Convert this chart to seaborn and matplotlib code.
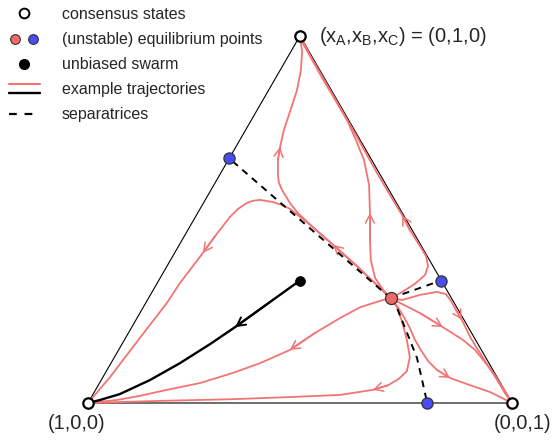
import numpy as np
import pandas as pd
import seaborn as sns
import matplotlib.pyplot as plt
from matplotlib.lines import Line2D
from matplotlib.legend_handler import HandlerTuple, HandlerBase

RED = '#f27474'
RED_PT = '#f06a6a'
BLUE = '#4b4bf5'

# special points, barycentric (xA, xB, xC)
consensus = [(1, 0, 0), (0, 1, 0), (0, 0, 1)]
consensus_labels = ['(1,0,0)', r'$\mathregular{(x_A{,}x_B{,}x_C)}$ = (0,1,0)', '(0,0,1)']
eq_red = [(1/7, 2/7, 4/7)]
eq_blue = [(1/3, 2/3, 0), (0, 1/3, 2/3), (1/5, 0, 4/5)]
swarm = [(1/3, 1/3, 1/3)]

# trajectories, triangle plane coords:
# (1,0,0) -> (0,0), (0,0,1) -> (1,0), (0,1,0) -> (0.5, 0.866)
black_x = [0.5, 0.429, 0.347, 0.288, 0.217, 0.146, 0.075, 0.028, 0]
black_y = [0.289, 0.238, 0.179, 0.139, 0.094, 0.054, 0.021, 0.007, 0]

toA_1_x = [0.714, 0.696, 0.642, 0.594, 0.535, 0.476, 0.406, 0.342, 0.264, 0.186, 0.123, 0.068, 0]
toA_1_y = [0.247, 0.243, 0.226, 0.200, 0.165, 0.125, 0.094, 0.071, 0.047, 0.031, 0.017, 0.007, 0]

toA_2_x = [0.714, 0.729, 0.741, 0.752, 0.759, 0.752, 0.733, 0.708, 0.672, 0.594, 0.476, 0.342, 0.170, 0]
toA_2_y = [0.247, 0.226, 0.191, 0.149, 0.108, 0.075, 0.057, 0.042, 0.031, 0.019, 0.014, 0.009, 0.005, 0]

toA_3_x = [0.714, 0.689, 0.634, 0.578, 0.524, 0.476, 0.457, 0.436, 0.406, 0.389, 0.375, 0.354,
           0.335, 0.300, 0.271, 0.217, 0.186, 0.146, 0.106, 0.052, 0]
toA_3_y = [0.247, 0.271, 0.323, 0.373, 0.420, 0.458, 0.467, 0.474, 0.479, 0.477, 0.472, 0.458,
           0.439, 0.394, 0.354, 0.283, 0.236, 0.184, 0.132, 0.061, 0]

toB_1_x = [0.714, 0.689, 0.634, 0.578, 0.528, 0.495, 0.476, 0.458, 0.450, 0.448, 0.448, 0.453, 0.462,
           0.476, 0.493, 0.502, 0.505, 0.5]
toB_1_y = [0.247, 0.271, 0.323, 0.373, 0.417, 0.448, 0.472, 0.502, 0.520, 0.538, 0.573, 0.604, 0.644,
           0.686, 0.738, 0.785, 0.828, 0.866]

toB_2_x = [0.714, 0.696, 0.677, 0.667, 0.665, 0.665, 0.663, 0.651, 0.632, 0.611, 0.583, 0.552,
           0.526, 0.509, 0.5]
toB_2_y = [0.247, 0.267, 0.295, 0.337, 0.384, 0.448, 0.514, 0.573, 0.620, 0.667, 0.715, 0.767,
           0.814, 0.844, 0.866]

toB_3_x = [0.714, 0.741, 0.771, 0.795, 0.802, 0.797, 0.783, 0.759, 0.741, 0.712, 0.686, 0.658,
           0.632, 0.606, 0.579, 0.552, 0.526, 0.5]
toB_3_y = [0.247, 0.262, 0.281, 0.302, 0.323, 0.347, 0.370, 0.408, 0.443, 0.491, 0.535, 0.585,
           0.632, 0.677, 0.724, 0.771, 0.816, 0.866]

toC_1_x = [0.714, 0.741, 0.783, 0.823, 0.844, 0.856, 0.868, 0.882, 0.901, 0.920, 0.941, 0.965, 0.983, 1]
toC_1_y = [0.247, 0.243, 0.255, 0.262, 0.257, 0.241, 0.219, 0.196, 0.156, 0.125, 0.092, 0.054, 0.024, 0]

toC_2_x = [0.714, 0.736, 0.783, 0.837, 0.884, 0.913, 0.934, 0.958, 0.979, 1]
toC_2_y = [0.247, 0.236, 0.212, 0.179, 0.149, 0.125, 0.099, 0.068, 0.035, 0]

toC_3_x = [0.714, 0.731, 0.745, 0.759, 0.771, 0.785, 0.802, 0.823, 0.854, 0.901, 0.948, 1]
toC_3_y = [0.247, 0.226, 0.203, 0.177, 0.149, 0.125, 0.099, 0.078, 0.059, 0.042, 0.026, 0]

# separatrices (from red equilibrium to the blue saddles)
sep_left_x = [0.714, 0.333]
sep_left_y = [0.247, 0.577]
sep_right_x = [0.714, 0.833]
sep_right_y = [0.247, 0.289]
sep_bottom_x = [0.714, 0.731, 0.745, 0.759, 0.776, 0.788, 0.8]
sep_bottom_y = [0.247, 0.219, 0.184, 0.149, 0.106, 0.054, 0]


def bary_to_xy(pts):
    pts = np.asarray(pts, dtype=float)
    return pts[:, 2] + 0.5 * pts[:, 1], np.sqrt(3) / 2 * pts[:, 1]


def add_arrow(ax, xs, ys, i, color, lw):
    ax.annotate('', xy=(xs[i], ys[i]), xytext=(xs[i - 1], ys[i - 1]),
                arrowprops=dict(arrowstyle='->,head_length=0.6,head_width=0.32',
                                color=color, lw=lw, shrinkA=0, shrinkB=0))


class HandlerStacked(HandlerBase):
    def create_artists(self, legend, orig_handle, xdescent, ydescent,
                       width, height, fontsize, trans):
        out = []
        for k, h in enumerate(orig_handle):
            y = height / 2 - ydescent + (0.5 - k) * 0.75 * height
            ln = Line2D([-xdescent, width - xdescent], [y, y], color=h.get_color(),
                        lw=h.get_linewidth(), transform=trans)
            out.append(ln)
        return out


sns.set_style('white')
plt.rcParams['font.family'] = ['Liberation Sans', 'DejaVu Sans']

fig = plt.figure(figsize=(5.53, 4.42), dpi=100)
ax = fig.add_axes([0, 0, 1, 1])
ax.set_xlim(-0.2075, 1.0967)
ax.set_ylim(-0.092, 0.9505)
ax.axis('off')

# triangle
vx, vy = bary_to_xy(consensus + [consensus[0]])
ax.plot(vx, vy, color='black', lw=0.8, zorder=1)

red_paths = [(toA_1_x, toA_1_y), (toA_2_x, toA_2_y), (toA_3_x, toA_3_y),
             (toB_1_x, toB_1_y), (toB_2_x, toB_2_y), (toB_3_x, toB_3_y),
             (toC_1_x, toC_1_y), (toC_2_x, toC_2_y), (toC_3_x, toC_3_y)]
rows = []
for k, (xs, ys) in enumerate(red_paths):
    for j, (x, y) in enumerate(zip(xs, ys)):
        rows.append({'traj': k, 'step': j, 'x': x, 'y': y})
red_df = pd.DataFrame(rows)
sns.lineplot(data=red_df, x='x', y='y', units='traj', estimator=None, sort=False,
             color=RED, lw=1.3, ax=ax, zorder=2)

black_df = pd.DataFrame({'x': black_x, 'y': black_y})
sns.lineplot(data=black_df, x='x', y='y', estimator=None, sort=False,
             color='black', lw=1.7, ax=ax, zorder=3)

# arrows on the trajectories
red_arrows = [(toA_1_x, toA_1_y, 5), (toA_2_x, toA_2_y, 8), (toA_3_x, toA_3_y, 3),
              (toA_3_x, toA_3_y, 14), (toB_1_x, toB_1_y, 11), (toB_2_x, toB_2_y, 5),
              (toB_3_x, toB_3_y, 8), (toC_1_x, toC_1_y, 7), (toC_2_x, toC_2_y, 3),
              (toC_3_x, toC_3_y, 8)]
for xs, ys, i in red_arrows:
    add_arrow(ax, xs, ys, i, RED, 1.1)
add_arrow(ax, black_x, black_y, 2, 'black', 1.4)

for xs, ys in [(sep_left_x, sep_left_y), (sep_right_x, sep_right_y), (sep_bottom_x, sep_bottom_y)]:
    ax.plot(xs, ys, color='black', lw=1.4, ls=(0, (3.5, 3)), zorder=4)

# points
cx, cy = bary_to_xy(consensus)
ax.plot(cx, cy, 'o', ms=7.5, mfc='white', mec='black', mew=1.6, zorder=5, ls='')
rx, ry = bary_to_xy(eq_red)
sns.scatterplot(x=rx, y=ry, s=75, color=RED_PT, edgecolor='#333333', linewidth=0.9, ax=ax, zorder=5)
bx, by = bary_to_xy(eq_blue)
sns.scatterplot(x=bx, y=by, s=65, color=BLUE, edgecolor='#333333', linewidth=0.9, ax=ax, zorder=5)
sx, sy = bary_to_xy(swarm)
sns.scatterplot(x=sx, y=sy, s=50, color='black', edgecolor='black', ax=ax, zorder=5)

# vertex labels
offsets = [(-8, -15), (14, -0.5), (7.5, -15)]
aligns = [('center', 'center'), ('left', 'center'), ('center', 'center')]
for (x, y), lab, off, (ha, va) in zip(zip(cx, cy), consensus_labels, offsets, aligns):
    ax.annotate(lab, xy=(x, y), xytext=off, textcoords='offset points',
                ha=ha, va=va, fontsize=14.5)

# legend
h_cons = Line2D([], [], marker='o', ls='', ms=7, mfc='white', mec='black', mew=1.4)
h_red = Line2D([], [], marker='o', ls='', ms=7, mfc=RED_PT, mec='#333333', mew=0.8)
h_blue = Line2D([], [], marker='o', ls='', ms=7, mfc=BLUE, mec='#333333', mew=0.8)
h_swarm = Line2D([], [], marker='o', ls='', ms=7, mfc='black', mec='black')
h_lr = Line2D([], [], color=RED, lw=1.5)
h_lb = Line2D([], [], color='black', lw=1.7)
h_sep = Line2D([], [], color='black', lw=1.6, ls=(0, (3.5, 3.5)))
pair = (h_red, h_blue)
stack = (h_lr, h_lb)
ax.legend([h_cons, pair, h_swarm, stack, h_sep],
          ['consensus states', '(unstable) equilibrium points', 'unbiased swarm',
           'example trajectories', 'separatrices'],
          handler_map={pair: HandlerTuple(ndivide=None, pad=0.3), stack: HandlerStacked()},
          loc='upper left', bbox_to_anchor=(0.016, 0.984), frameon=False, fontsize=11.5,
          borderpad=0, borderaxespad=0, handlelength=1.95, handletextpad=1.35,
          labelspacing=0.63)

fig.savefig('out.png', dpi=100)
